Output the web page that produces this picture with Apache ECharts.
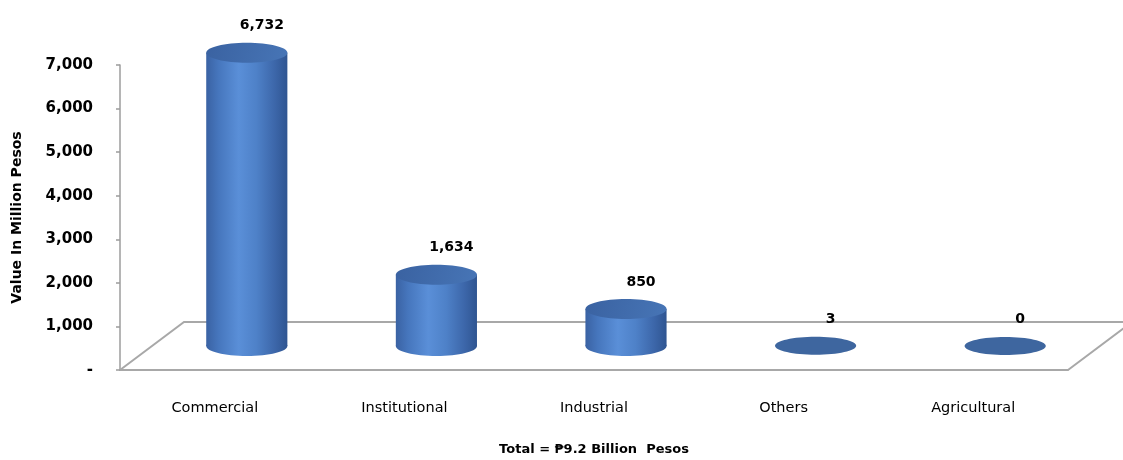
<!DOCTYPE html>
<html>
<head>
<meta charset="utf-8">
<script src="https://cdn.jsdelivr.net/npm/echarts@6/dist/echarts.min.js"></script>
<style>
  html, body { margin: 0; padding: 0; background: #fff; }
  #chart { width: 1123px; height: 460px; }
</style>
</head>
<body>
<div id="chart"></div>
<script>
// Construction value by type of building (million pesos)
const categories = ['Commercial', 'Institutional', 'Industrial', 'Others', 'Agricultural'];
const values = [6732, 1634, 850, 3, 0];
const yMin = 0;
const yMax = 7000;
const yInterval = 1000;
const yAxisTitle = 'Value In Million Pesos';
const totalCaption = 'Total = \u20B19.2 Billion  Pesos';

const FONT = '"DejaVu Sans", "Noto Sans", sans-serif';

// pseudo-3D depth of the floor and of the cylinders standing on it
const FLOOR_DX = 64, FLOOR_DY = -48;
const BAR_DX = FLOOR_DX / 2, BAR_DY = FLOOR_DY / 2;
const ELLIPSE_RY = 10;

const fmt = v => v.toLocaleString('en-US');

const bodyGrad = new echarts.graphic.LinearGradient(0, 0, 1, 0, [
  { offset: 0, color: '#3a62a3' },
  { offset: 0.15, color: '#4676bd' },
  { offset: 0.4, color: '#5a8fd8' },
  { offset: 0.62, color: '#4e81c8' },
  { offset: 0.85, color: '#3c66a9' },
  { offset: 1, color: '#2f5591' }
]);
const topGrad = new echarts.graphic.LinearGradient(0, 0, 1, 1, [
  { offset: 0, color: '#3a62a1' },
  { offset: 1, color: '#4775b6' }
]);
const flatColor = '#3e669f';

function renderFloor(params, api) {
  const cs = params.coordSys;
  const x0 = cs.x, y0 = cs.y + cs.height, x1 = cs.x + cs.width;
  return {
    type: 'polyline',
    shape: { points: [[x0, y0], [x0 + FLOOR_DX, y0 + FLOOR_DY], [x1 + FLOOR_DX, y0 + FLOOR_DY], [x1, y0]] },
    style: { stroke: '#a8a8a8', lineWidth: 2, fill: null }
  };
}

function renderCylinder(params, api) {
  const idx = api.value(0);
  const v = api.value(1);
  const base = api.coord([idx, 0]);
  const top = api.coord([idx, v]);
  const rx = api.size([1, 0])[0] * 0.214;
  const cx = base[0] + BAR_DX;
  const by = base[1] + BAR_DY;
  const ty = top[1] + BAR_DY;
  const children = [];
  if (by - ty > 0.5) {
    children.push({ type: 'ellipse', shape: { cx: cx, cy: by, rx: rx, ry: ELLIPSE_RY }, style: { fill: bodyGrad } });
    children.push({ type: 'rect', shape: { x: cx - rx, y: ty, width: 2 * rx, height: by - ty }, style: { fill: bodyGrad } });
    children.push({ type: 'ellipse', shape: { cx: cx, cy: ty, rx: rx, ry: ELLIPSE_RY }, style: { fill: topGrad } });
  } else {
    children.push({ type: 'ellipse', shape: { cx: cx, cy: ty, rx: rx, ry: ELLIPSE_RY * 0.9 }, style: { fill: flatColor } });
  }
  children.push({
    type: 'text',
    style: {
      text: fmt(v), x: cx + 15, y: ty - 27,
      align: 'center', verticalAlign: 'middle',
      fontFamily: FONT, fontWeight: 'bold', fontSize: 14, fill: '#000'
    }
  });
  return { type: 'group', children: children };
}

const chart = echarts.init(document.getElementById('chart'), null, { renderer: 'canvas' });
chart.setOption({
  animation: false,
  backgroundColor: '#fff',
  grid: { left: 120, right: 55, top: 65, bottom: 90, containLabel: false, outerBoundsMode: 'none' },
  xAxis: {
    type: 'category',
    data: categories,
    axisLine: { lineStyle: { color: '#a8a8a8', width: 2 } },
    axisTick: { show: false },
    axisLabel: { margin: 31, fontFamily: FONT, fontSize: 14.5, color: '#000' },
    name: totalCaption,
    nameLocation: 'middle',
    nameGap: 73,
    nameTextStyle: { fontFamily: FONT, fontWeight: 'bold', fontSize: 13, color: '#000' }
  },
  yAxis: {
    type: 'value',
    min: yMin, max: yMax, interval: yInterval,
    axisLine: { show: true, lineStyle: { color: '#9c9c9c', width: 1.5 } },
    axisTick: { show: true, length: 4, lineStyle: { color: '#9c9c9c', width: 1.5 } },
    splitLine: { show: false },
    axisLabel: {
      margin: 27, fontFamily: FONT, fontWeight: 'bold', fontSize: 15, color: '#000',
      formatter: v => (v === 0 ? '-' : fmt(v))
    },
    name: yAxisTitle,
    nameLocation: 'middle',
    nameGap: 96,
    nameRotate: 90,
    nameTextStyle: { fontFamily: FONT, fontWeight: 'bold', fontSize: 14, color: '#000' }
  },
  series: [
    {
      name: 'floor',
      type: 'custom',
      renderItem: renderFloor,
      clip: false,
      silent: true,
      z: 1,
      data: [[0, 0]]
    },
    {
      name: 'Value',
      type: 'custom',
      renderItem: renderCylinder,
      clip: false,
      z: 2,
      encode: { x: 0, y: 1 },
      data: values.map((v, i) => [i, v])
    }
  ]
});
</script>
</body>
</html>
